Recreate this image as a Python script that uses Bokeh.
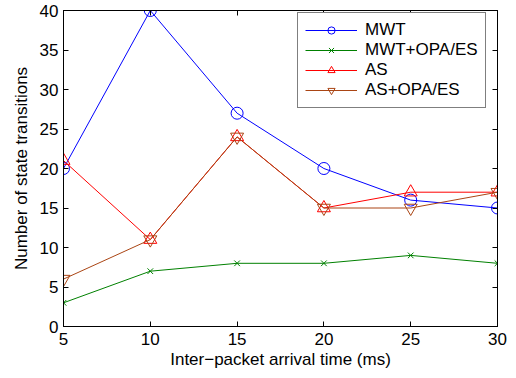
from bokeh.plotting import figure
from bokeh.models import LinearAxis, Range1d, Legend, LegendItem, FixedTicker
from bokeh.embed import file_html
from bokeh.resources import INLINE

x = [5, 10, 15, 20, 25, 30]
mwt = [20, 40, 27, 20, 16, 15]
mwt_opa = [3, 7, 8, 8, 9, 8]
as_ = [21, 11, 24, 15, 17, 17]
as_opa = [6, 11, 24, 15, 15, 17]
x_ticks = [5, 10, 15, 20, 25, 30]
y_ticks = [0, 5, 10, 15, 20, 25, 30, 35, 40]

FONT = "Liberation Sans"

p = figure(width=516, height=378, output_backend="svg", toolbar_location=None,
           x_range=Range1d(5, 30), y_range=Range1d(0, 40),
           min_border_left=63, min_border_right=19, min_border_top=10, min_border_bottom=52)
p.background_fill_color = "white"
p.border_fill_color = "white"
p.outline_line_color = "black"
p.outline_line_width = 1
p.xgrid.visible = False
p.ygrid.visible = False

for ax in (p.xaxis[0], p.yaxis[0]):
    ax.major_tick_in = 5
    ax.major_tick_out = 0
    ax.minor_tick_in = 0
    ax.minor_tick_out = 0
    ax.axis_line_color = "black"
    ax.major_label_text_font = FONT
    ax.major_label_text_font_size = "17px"
    ax.major_label_text_color = "black"
    ax.axis_label_text_font = FONT
    ax.axis_label_text_font_size = "17px"
    ax.axis_label_text_font_style = "normal"
    ax.axis_label_text_color = "black"
p.xaxis[0].ticker = FixedTicker(ticks=x_ticks)
p.yaxis[0].ticker = FixedTicker(ticks=y_ticks)
p.xaxis[0].axis_label = "Inter\u2212packet arrival time (ms)"
p.yaxis[0].axis_label = "Number of state transitions"
p.xaxis[0].major_label_standoff = 6
p.yaxis[0].major_label_standoff = 5
p.xaxis[0].axis_label_standoff = 2
p.yaxis[0].axis_label_standoff = 6

top = LinearAxis(ticker=FixedTicker(ticks=x_ticks), major_tick_in=5, major_tick_out=0,
                 minor_tick_in=0, minor_tick_out=0,
                 major_label_overrides={t: "" for t in x_ticks},
                 major_label_standoff=0, axis_line_color="black")
right = LinearAxis(ticker=FixedTicker(ticks=y_ticks), major_tick_in=5, major_tick_out=0,
                   minor_tick_in=0, minor_tick_out=0,
                   major_label_overrides={t: "" for t in y_ticks},
                   major_label_standoff=0, axis_line_color="black")
p.add_layout(top, "above")
p.add_layout(right, "right")

blue = "#0000ff"
green = "#008000"
red = "#ff0000"
brown = "#aa4514"

l1 = p.line(x, mwt, line_color=blue, line_width=1)
m1 = p.scatter(x, mwt, marker="circle", size=12, fill_color=None, line_color=blue, line_width=1)
l2 = p.line(x, mwt_opa, line_color=green, line_width=1)
m2 = p.scatter(x, mwt_opa, marker="x", size=8, line_color=green, line_width=1)
l3 = p.line(x, as_, line_color=red, line_width=1)
m3 = p.scatter(x, as_, marker="triangle", size=13, fill_color=None, line_color=red, line_width=1)
l4 = p.line(x, as_opa, line_color=brown, line_width=1)
m4 = p.scatter(x, as_opa, marker="inverted_triangle", size=13, fill_color=None, line_color=brown, line_width=1)

legend = Legend(items=[
    LegendItem(label="MWT", renderers=[l1, m1]),
    LegendItem(label="MWT+OPA/ES", renderers=[l2, m2]),
    LegendItem(label="AS", renderers=[l3, m3]),
    LegendItem(label="AS+OPA/ES", renderers=[l4, m4]),
], location=(234, 218))
legend.label_text_font = FONT
legend.label_text_font_size = "17px"
legend.label_text_color = "black"
legend.border_line_color = "black"
legend.border_line_width = 1
legend.background_fill_color = "white"
legend.background_fill_alpha = 1
legend.glyph_width = 52
legend.glyph_height = 18
legend.spacing = 0
legend.padding = 7
legend.margin = 0
legend.label_standoff = 8
p.add_layout(legend)

open("out.html", "w").write(file_html(p, INLINE))
